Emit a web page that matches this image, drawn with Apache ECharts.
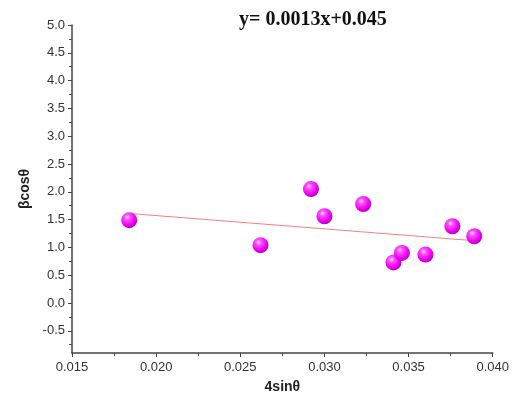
<!DOCTYPE html>
<html>
<head>
<meta charset="UTF-8" />
<script src="https://cdn.jsdelivr.net/npm/echarts@6/dist/echarts.min.js"></script>
<style>html,body{margin:0;padding:0;background:#fff}</style>
</head>
<body>
<div id="main" style="width:512px;height:407px"></div>
<script>
  // points
  const xVals = [0.0184, 0.0262, 0.0292, 0.0300, 0.0323, 0.0341, 0.0346, 0.0360, 0.0376, 0.0389];
  const yVals = [1.49, 1.04, 2.05, 1.56, 1.78, 0.73, 0.90, 0.87, 1.38, 1.20];
  // fitted line end points
  const fitX = [0.0184, 0.0389];
  const fitY = [1.61, 1.12];
  const yLabels = [-0.5, 0, 0.5, 1, 1.5, 2, 2.5, 3, 3.5, 4, 4.5, 5];
  const yMinor = [-0.75, -0.25, 0.25, 0.75, 1.25, 1.75, 2.25, 2.75, 3.25, 3.75, 4.25, 4.75];
  const xLabels = [0.015, 0.020, 0.025, 0.030, 0.035, 0.040];
  const xMinor = [0.0175, 0.0225, 0.0275, 0.0325, 0.0375];

  const ball = new echarts.graphic.RadialGradient(0.38, 0.32, 0.7, [
    { offset: 0, color: '#ffe6ff' },
    { offset: 0.25, color: '#ff4dff' },
    { offset: 0.7, color: '#f000f0' },
    { offset: 1, color: '#b000b8' }
  ]);

  const axisFont = { fontFamily: 'Liberation Sans, Arial', fontSize: 13, color: '#333' };
  const lineCol = '#444';

  const chart = echarts.init(document.getElementById('main'), null, { renderer: 'canvas' });
  chart.setOption({
    animation: false,
    title: {
      text: 'y= 0.0013x+0.045',
      left: 234, top: 5,
      textStyle: { fontFamily: 'Liberation Serif, Times New Roman', fontWeight: 'bold', fontSize: 20, color: '#111' }
    },
    grid: { left: 72, right: 19, top: 25, bottom: 54 },
    xAxis: [{
      type: 'value', min: 0.015, max: 0.040,
      name: '4sin\u03b8', nameLocation: 'middle', nameGap: 27,
      nameTextStyle: { fontFamily: 'Liberation Sans, Arial', fontWeight: 'bold', fontSize: 14, color: '#222' },
      axisLine: { show: true, onZero: false, lineStyle: { color: lineCol, width: 1.5 } },
      axisTick: { show: true, customValues: xLabels, length: 4, lineStyle: { color: lineCol } },
      axisLabel: Object.assign({ customValues: xLabels, margin: 8, formatter: v => v.toFixed(3) }, axisFont),
      splitLine: { show: false }
    }, {
      type: 'value', min: 0.015, max: 0.040, position: 'bottom',
      axisLine: { show: false, onZero: false },
      axisTick: { show: true, customValues: xMinor, length: 3, lineStyle: { color: lineCol } },
      axisLabel: { show: false }, splitLine: { show: false }
    }],
    yAxis: [{
      type: 'value', min: -0.9, max: 5.0,
      name: '\u03b2cos\u03b8', nameLocation: 'middle', nameGap: 40, nameRotate: 90,
      nameTextStyle: { fontFamily: 'Liberation Sans, Arial', fontWeight: 'bold', fontSize: 14, color: '#222' },
      axisLine: { show: true, onZero: false, lineStyle: { color: lineCol, width: 1.5 } },
      axisTick: { show: true, customValues: yLabels, length: 4, lineStyle: { color: lineCol } },
      axisLabel: Object.assign({ customValues: yLabels, margin: 7, formatter: v => v.toFixed(1) }, axisFont),
      splitLine: { show: false }
    }, {
      type: 'value', min: -0.9, max: 5.0, position: 'left',
      axisLine: { show: false, onZero: false },
      axisTick: { show: true, customValues: yMinor, length: 3, lineStyle: { color: lineCol } },
      axisLabel: { show: false }, splitLine: { show: false }
    }],
    series: [{
      type: 'line',
      data: fitX.map((x, i) => [x, fitY[i]]),
      symbol: 'none',
      lineStyle: { color: '#f08080', width: 1 },
      z: 2
    }, {
      type: 'scatter',
      data: xVals.map((x, i) => [x, yVals[i]]),
      symbolSize: 16,
      itemStyle: { color: ball, opacity: 1 },
      z: 3
    }]
  });
</script>
</body>
</html>
